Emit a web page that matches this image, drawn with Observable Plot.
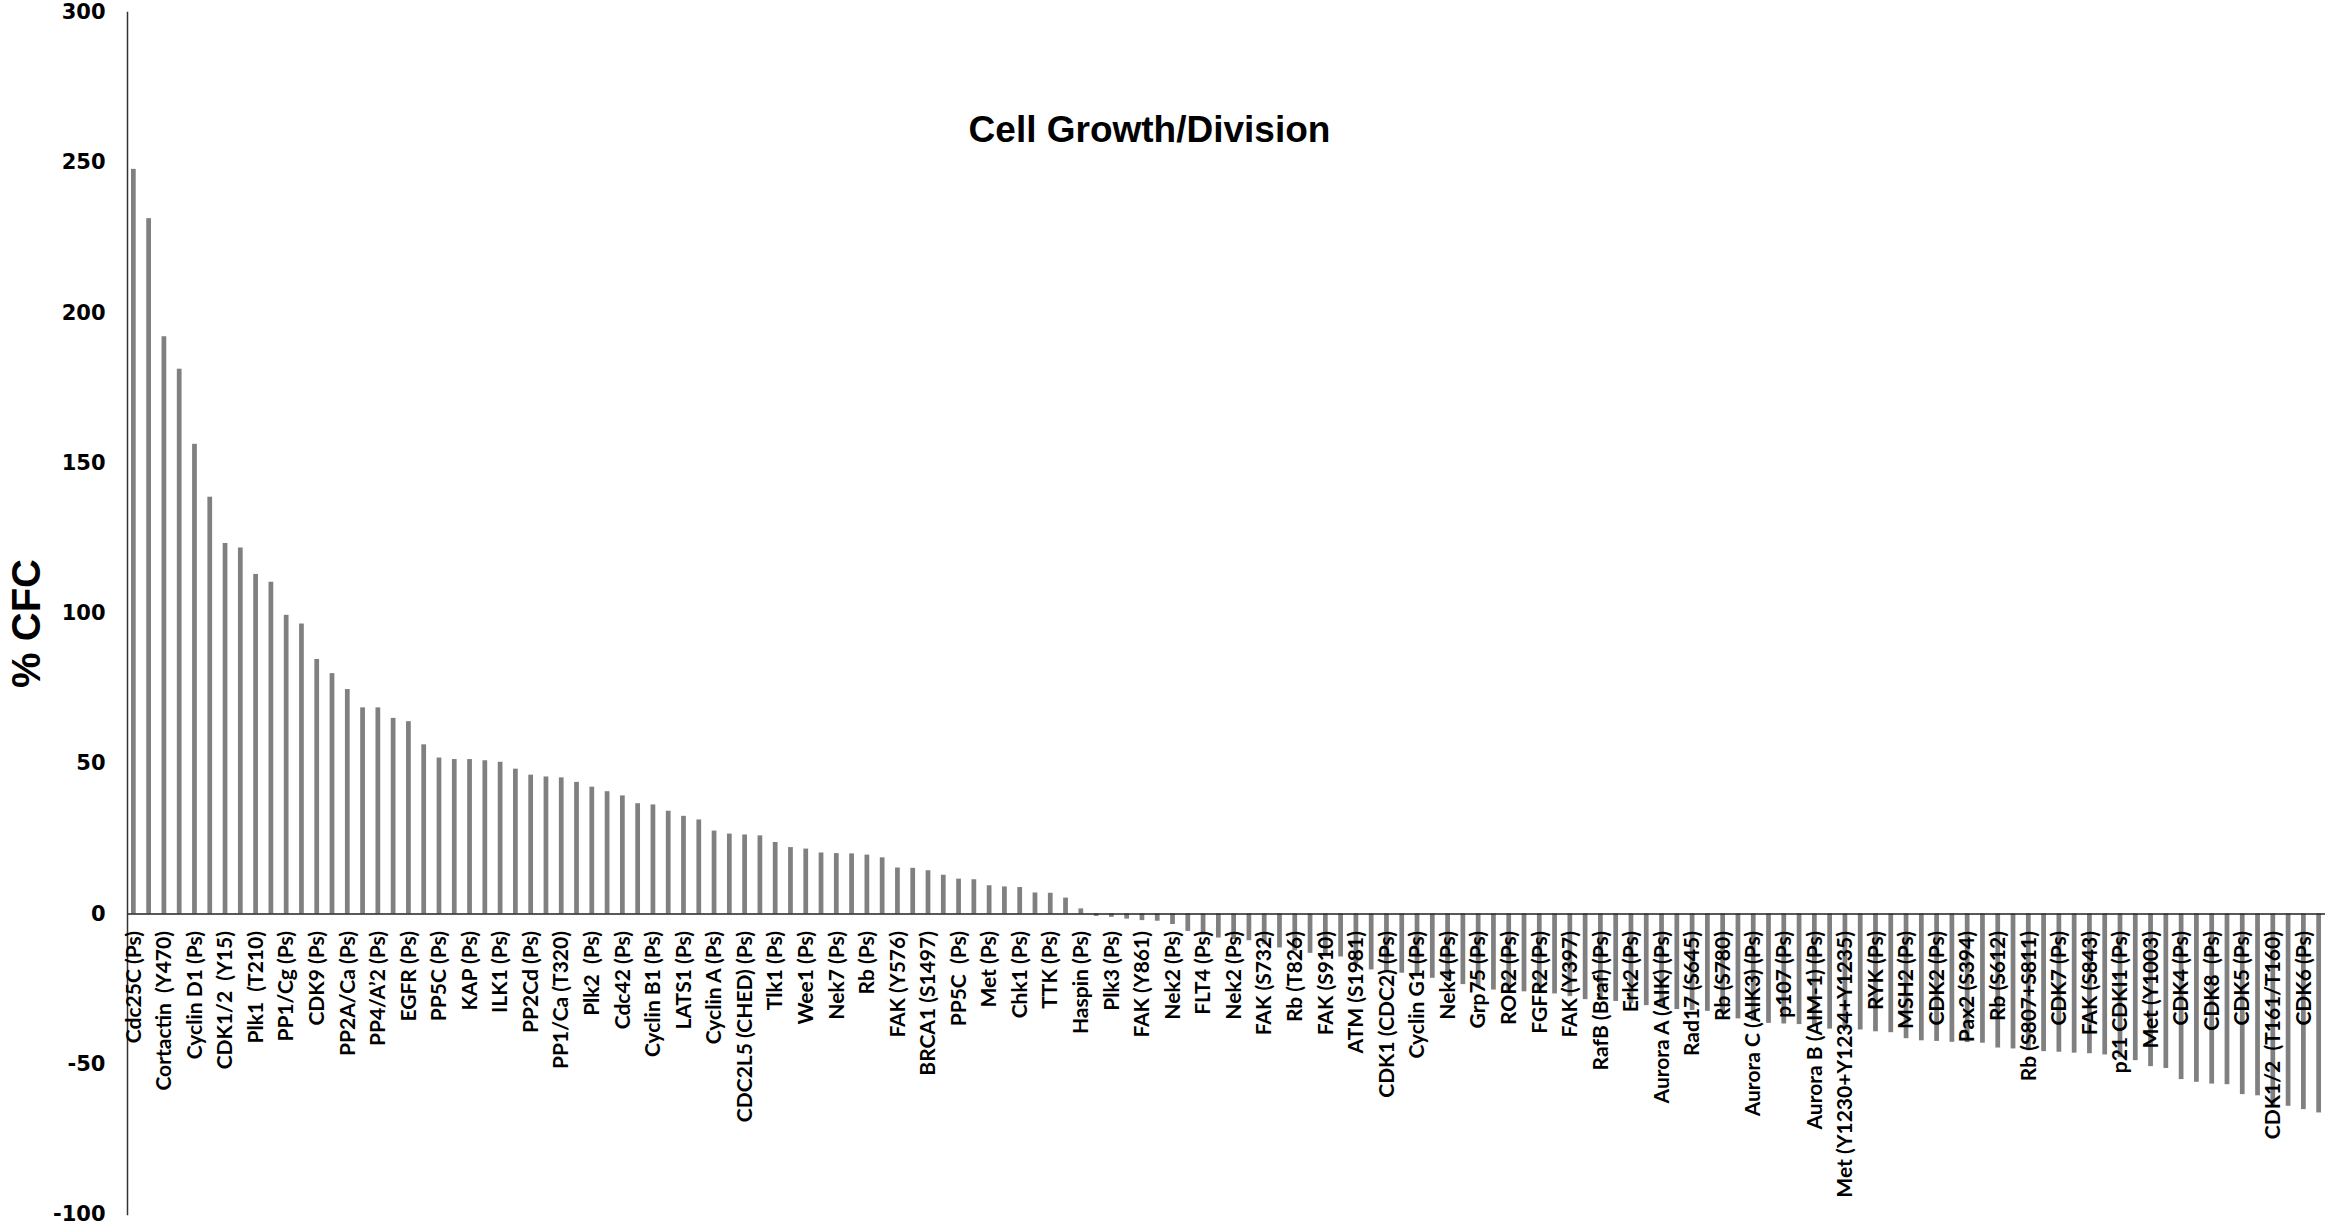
<!DOCTYPE html>
<html>
<head>
<meta charset="utf-8">
<script src="https://cdn.jsdelivr.net/npm/d3@7"></script>
<script src="https://cdn.jsdelivr.net/npm/@observablehq/plot@0.6"></script>
<style>
  html, body { margin: 0; padding: 0; background: #fff; }
  #chart svg { overflow: visible; display: block; }
</style>
</head>
<body>
<div id="chart"></div>
<script>
// % CFC for each of the 144 bars (sorted, as in the reference)
const values = [
  247.8, 231.4, 192.1, 181.3, 156.3, 138.7, 123.3, 121.8, 113.0, 110.4,
  99.4, 96.5, 84.7, 80.0, 74.7, 68.6, 68.6, 65.1, 64.0, 56.3,
  51.9, 51.4, 51.4, 51.0, 50.5, 48.2, 46.2, 45.6, 45.3, 43.8,
  42.2, 40.7, 39.3, 36.7, 36.3, 34.2, 32.5, 31.3, 27.6, 26.6,
  26.3, 26.0, 23.8, 22.1, 21.6, 20.3, 20.1, 20.0, 19.6, 18.7,
  15.3, 15.2, 14.4, 12.9, 11.6, 11.4, 9.4, 9.0, 8.8, 7.0,
  6.9, 5.3, 1.7, -0.8, -1.1, -1.7, -2.2, -2.4, -3.5, -5.8,
  -7.0, -8.0, -8.5, -8.9, -10.2, -11.3, -12.3, -13.1, -13.6, -14.3,
  -16.5, -18.6, -19.1, -19.7, -20.5, -21.4, -22.4, -23.5, -24.5, -25.3,
  -25.6, -25.9, -26.2, -26.6, -27.5, -28.5, -28.8, -29.1, -29.8, -30.5,
  -31.2, -31.8, -32.1, -32.4, -33.5, -34.9, -35.6, -36.4, -36.6, -36.8,
  -37.5, -38.3, -38.4, -38.6, -39.2, -39.5, -41.5, -42.2, -42.4, -42.7,
  -42.8, -43.0, -44.6, -44.9, -45.5, -45.8, -46.0, -46.3, -46.5, -46.9,
  -47.8, -48.8, -50.8, -51.4, -55.1, -56.0, -56.6, -56.8, -60.1, -60.5,
  -63.8, -64.0, -65.1, -66.2
];

// Category labels shown under every other bar
const labels = [
  "Cdc25C (Ps)", "Cortactin  (Y470)", "Cyclin D1 (Ps)", "CDK1/2  (Y15)", "Plk1  (T210)",
  "PP1/Cg (Ps)", "CDK9 (Ps)", "PP2A/Ca (Ps)", "PP4/A’2 (Ps)", "EGFR (Ps)",
  "PP5C (Ps)", "KAP (Ps)", "ILK1 (Ps)", "PP2Cd (Ps)", "PP1/Ca (T320)",
  "Plk2  (Ps)", "Cdc42 (Ps)", "Cyclin B1 (Ps)", "LATS1 (Ps)", "Cyclin A (Ps)",
  "CDC2L5 (CHED) (Ps)", "Tlk1 (Ps)", "Wee1 (Ps)", "Nek7 (Ps)", "Rb (Ps)",
  "FAK (Y576)", "BRCA1 (S1497)", "PP5C  (Ps)", "Met (Ps)", "Chk1 (Ps)",
  "TTK (Ps)", "Haspin (Ps)", "Plk3 (Ps)", "FAK (Y861)", "Nek2 (Ps)",
  "FLT4 (Ps)", "Nek2 (Ps)", "FAK (S732)", "Rb (T826)", "FAK (S910)",
  "ATM (S1981)", "CDK1 (CDC2) (Ps)", "Cyclin G1 (Ps)", "Nek4 (Ps)", "Grp75 (Ps)",
  "ROR2 (Ps)", "FGFR2 (Ps)", "FAK (Y397)", "RafB (Braf) (Ps)", "Erk2 (Ps)",
  "Aurora A (AIK) (Ps)", "Rad17 (S645)", "Rb (S780)", "Aurora C (AIK3) (Ps)", "p107 (Ps)",
  "Aurora B (AIM-1) (Ps)", "Met (Y1230+Y1234+Y1235)", "RYK (Ps)", "MSH2 (Ps)", "CDK2 (Ps)",
  "Pax2 (S394)", "Rb (S612)", "Rb (S807+S811)", "CDK7 (Ps)", "FAK (S843)",
  "p21 CDKI1 (Ps)", "Met (Y1003)", "CDK4 (Ps)", "CDK8  (Ps)", "CDK5 (Ps)",
  "CDK1/2  (T161/T160)", "CDK6 (Ps)"
];

const yTicks = [-100, -50, 0, 50, 100, 150, 200, 250, 300];
const title = "Cell Growth/Division";
const yLabel = "% CFC";

const bars = values.map((v, i) => ({i, v}));
const labelRows = labels.map((name, k) => ({i: 2 * k, name}));

const chart = Plot.plot({
  width: 2348,
  height: 1232,
  marginLeft: 127,
  marginRight: 23,
  marginTop: 12,
  marginBottom: 18,
  style: {background: "#fff"},
  x: {type: "band", domain: d3.range(values.length), paddingInner: 0.69, paddingOuter: 0.26, axis: null},
  y: {domain: [-100, 300], axis: null},
  marks: [
    Plot.barY(bars, {x: "i", y: "v", fill: "#808080"}),
    Plot.ruleY([0], {stroke: "#222", strokeWidth: 1.5}),
    Plot.frame({anchor: "left", stroke: "#333", strokeWidth: 1.5}),
    Plot.axisY({
      ticks: yTicks,
      tickSize: 0,
      tickPadding: 22,
      tickFormat: d => String(d),
      label: null,
      fontSize: 21,
      fontFamily: "DejaVu Sans",
      fontWeight: "bold",
      fill: "#000"
    }),
    Plot.text(labelRows, {
      x: "i", y: 0, text: "name",
      rotate: -90, textAnchor: "end", lineAnchor: "middle",
      dy: 17,
      fontFamily: "Lato", fontWeight: "bold", fontSize: 21, fill: "#000"
    }),
    Plot.text([yLabel], {
      frameAnchor: "left", dx: -100, dy: 10, rotate: -90,
      textAnchor: "middle", lineAnchor: "middle",
      fontFamily: "Liberation Sans", fontWeight: "bold", fontSize: 40, fill: "#000"
    }),
    Plot.text([title], {
      frameAnchor: "top", dx: -77, dy: 118,
      textAnchor: "middle", lineAnchor: "middle",
      fontFamily: "Liberation Sans", fontWeight: "bold", fontSize: 37, fill: "#000"
    })
  ]
});
document.getElementById("chart").appendChild(chart);
</script>
</body>
</html>
